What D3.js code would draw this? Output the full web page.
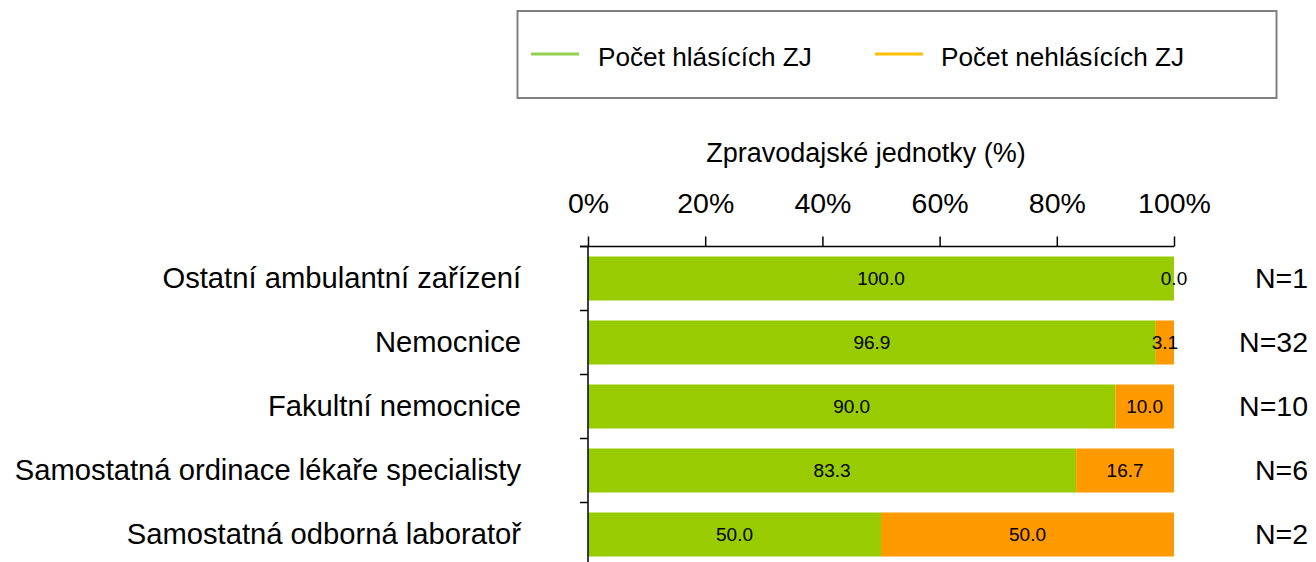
<!DOCTYPE html>
<html>
<head>
<meta charset="utf-8">
<script src="https://cdn.jsdelivr.net/npm/d3@7"></script>
<style>
    body { margin: 0; background: #fff; }
    svg { display: block; font-family: "Liberation Sans", Arial, sans-serif; }
</style>
</head>
<body>
<svg id="chart" width="1316" height="562"></svg>
<script>
// chart data
const categories = [
    "Ostatní ambulantní zařízení",
    "Nemocnice",
    "Fakultní nemocnice",
    "Samostatná ordinace lékaře specialisty",
    "Samostatná odborná laboratoř"
];
const reporting = [100.0, 96.9, 90.0, 83.3, 50.0];
const notReporting = [0.0, 3.1, 10.0, 16.7, 50.0];
const counts = ["N=1", "N=32", "N=10", "N=6", "N=2"];
const seriesNames = ["Počet hlásících ZJ", "Počet nehlásících ZJ"];
const tickValues = [0, 20, 40, 60, 80, 100];
const axisTitle = "Zpravodajské jednotky (%)";

const svg = d3.select("#chart");

const barColors = ["#99cc00", "#ff9900"];
const legendColors = ["#92d050", "#ffc000"];

const x = d3.scaleLinear().domain([0, 100]).range([588, 1174]);
const y = d3.scaleBand()
    .domain(categories)
    .range([246.5, 246.5 + 64 * categories.length])
    .paddingInner(20 / 64)
    .paddingOuter(10 / 64);

// stacked rows
const rows = categories.map((c, i) => ({ name: c, a: reporting[i], b: notReporting[i], n: counts[i] }));
const stack = d3.stack().keys(["a", "b"]);
const layers = stack(rows);

const bars = svg.append("g");
layers.forEach((layer, li) => {
    bars.append("g")
        .attr("fill", barColors[li])
        .selectAll("rect")
        .data(layer)
        .enter().append("rect")
        .attr("x", d => x(d[0]))
        .attr("y", d => y(d.data.name))
        .attr("width", d => x(d[1]) - x(d[0]))
        .attr("height", y.bandwidth());
});

// value labels in the middle of each segment
layers.forEach((layer) => {
    svg.append("g")
        .attr("font-size", 19)
        .attr("text-anchor", "middle")
        .selectAll("text")
        .data(layer)
        .enter().append("text")
        .attr("x", d => x((d[0] + d[1]) / 2))
        .attr("y", d => y(d.data.name) + y.bandwidth() / 2)
        .attr("dy", "0.35em")
        .attr("fill", "#000")
        .text(d => (d[1] - d[0]).toFixed(1));
});

// top axis
const xAxis = svg.append("g")
    .attr("transform", "translate(0,246.5)")
    .call(d3.axisTop(x).tickValues(tickValues).tickSize(10).tickSizeOuter(0).tickFormat(d => d + "%"));
xAxis.select(".domain").attr("d", "M580,0H1174").attr("stroke", "#000").attr("stroke-width", 1.5);
xAxis.selectAll(".tick line").attr("stroke", "#000").attr("stroke-width", 1.5);
xAxis.selectAll(".tick text")
    .attr("font-size", 28.5)
    .attr("font-family", "Liberation Sans, Arial, sans-serif")
    .attr("fill", "#000")
    .attr("y", -33.5)
    .attr("dy", 0);

// left axis (ticks at band edges)
const leftAxis = svg.append("g");
leftAxis.append("line")
    .attr("x1", 588).attr("x2", 588)
    .attr("y1", 246.5).attr("y2", 562)
    .attr("stroke", "#000").attr("stroke-width", 1.5);
leftAxis.selectAll("line.t")
    .data(categories.map((c, i) => y.range()[0] + i * y.step()))
    .enter().append("line")
    .attr("class", "t")
    .attr("x1", 580).attr("x2", 588)
    .attr("y1", d => d).attr("y2", d => d)
    .attr("stroke", "#000").attr("stroke-width", 1.5);

// category labels
svg.append("g")
    .attr("font-size", 29.2)
    .attr("text-anchor", "end")
    .selectAll("text")
    .data(rows)
    .enter().append("text")
    .attr("x", 521)
    .attr("y", d => y(d.name) + y.bandwidth() / 2)
    .attr("dy", "0.33em")
    .attr("fill", "#000")
    .text(d => d.name);

// N counts
svg.append("g")
    .attr("font-size", 28.5)
    .attr("text-anchor", "end")
    .selectAll("text")
    .data(rows)
    .enter().append("text")
    .attr("x", 1308)
    .attr("y", d => y(d.name) + y.bandwidth() / 2)
    .attr("dy", "0.35em")
    .attr("fill", "#000")
    .text(d => d.n);

// axis title
svg.append("text")
    .attr("x", 866)
    .attr("y", 162)
    .attr("text-anchor", "middle")
    .attr("font-size", 27)
    .attr("fill", "#000")
    .text(axisTitle);

// legend
const legend = svg.append("g");
legend.append("rect")
    .attr("x", 517.5).attr("y", 11)
    .attr("width", 759).attr("height", 87)
    .attr("fill", "#fff")
    .attr("stroke", "#808080")
    .attr("stroke-width", 2);

const legendX = [531, 875];
const item = legend.selectAll("g.item")
    .data(seriesNames)
    .enter().append("g")
    .attr("class", "item")
    .attr("transform", (d, i) => `translate(${legendX[i]},0)`);
item.append("line")
    .attr("x1", 0).attr("x2", 48)
    .attr("y1", 54).attr("y2", 54)
    .attr("stroke", (d, i) => legendColors[i])
    .attr("stroke-width", 3);
item.append("text")
    .attr("x", (d, i) => i === 0 ? 67 : 66)
    .attr("y", 66)
    .attr("font-size", 26.2)
    .attr("fill", "#000")
    .text(d => d);
</script>
</body>
</html>
